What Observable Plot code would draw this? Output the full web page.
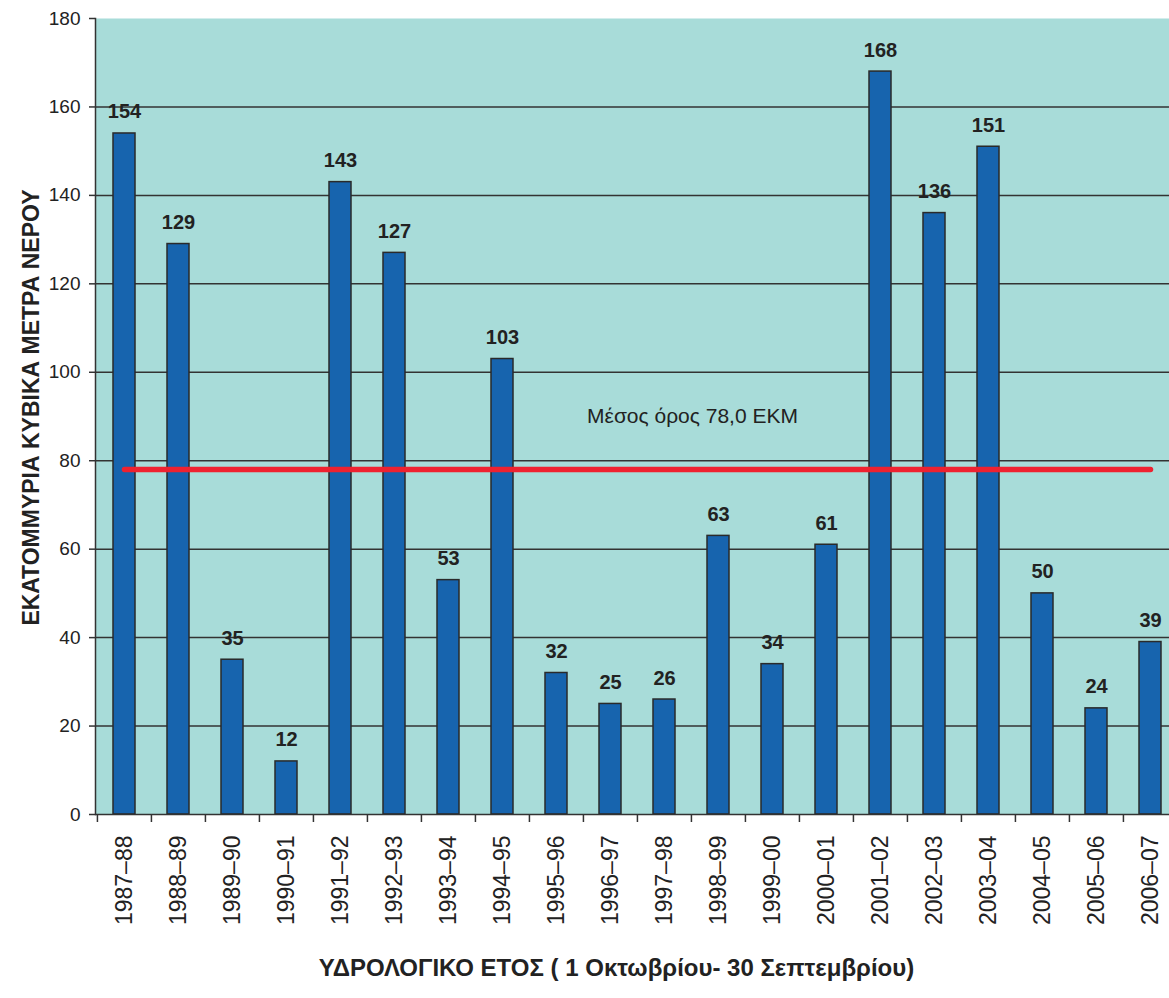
<!DOCTYPE html>
<html>
<head>
<meta charset="utf-8">
<script src="https://cdn.jsdelivr.net/npm/d3@7"></script>
<script src="https://cdn.jsdelivr.net/npm/@observablehq/plot@0.6"></script>
<style>
  html, body { margin: 0; padding: 0; background: #fff; overflow: hidden; }
  #chart svg { display: block; overflow: hidden; }
</style>
</head>
<body>
<div id="chart"></div>
<script>
const years = ["1987–88","1988–89","1989–90","1990–91","1991–92","1992–93","1993–94","1994–95","1995–96","1996–97","1997–98","1998–99","1999–00","2000–01","2001–02","2002–03","2003–04","2004–05","2005–06","2006–07"];
const values = [154,129,35,12,143,127,53,103,32,25,26,63,34,61,168,136,151,50,24,39];
const yTicks = [0,20,40,60,80,100,120,140,160,180];
const meanValue = 78.0;
const meanLabel = "Μέσος όρος 78,0 ΕΚΜ";
const yTitle = "ΕΚΑΤΟΜΜΥΡΙΑ ΚΥΒΙΚΑ ΜΕΤΡΑ ΝΕΡΟΥ";
const xTitle = "ΥΔΡΟΛΟΓΙΚΟ ΕΤΟΣ ( 1 Οκτωβρίου- 30 Σεπτεμβρίου)";

const data = years.map((year, i) => ({year, value: values[i]}));

const W = 1169, H = 998;
const mL = 95, mT = 18, mB = 184;
const xRange = [mL, 1178];
const step = (xRange[1] - xRange[0]) / years.length;
const font = "'Liberation Sans', Arial, Helvetica, sans-serif";

const chart = Plot.plot({
  width: W,
  height: H,
  marginLeft: mL,
  marginRight: 0,
  marginTop: mT,
  marginBottom: mB,
  style: {fontFamily: font, background: "#fff", overflow: "hidden"},
  x: {domain: years, range: xRange, padding: 0},
  y: {domain: [0, 180], ticks: yTicks},
  marks: [
    Plot.frame({fill: "#a8dcd9", stroke: null}),
    Plot.ruleY(yTicks.filter(d => d > 0 && d < 180), {stroke: "#333", strokeWidth: 1.5}),
    Plot.barY(data, {x: "year", y: "value", fill: "#1764ae", stroke: "#2a2a2a", strokeWidth: 1.5, insetLeft: 16, insetRight: 16}),
    Plot.lineY([data[0], data[data.length - 1]], {x: "year", y: () => meanValue, stroke: "#ee2230", strokeWidth: 5.5}),
    Plot.text([meanLabel], {x: () => "1997–98", y: () => 90, dx: 28, fontSize: 21, fill: "#222", textAnchor: "middle"}),
    Plot.text(data, {x: "year", y: "value", text: d => String(d.value), dy: -15, lineAnchor: "bottom", fontSize: 20, fontWeight: "bold", fill: "#222"}),
    Plot.ruleY([0], {stroke: "#333", strokeWidth: 1.5}),
    Plot.frame({anchor: "left", stroke: "#333", strokeWidth: 1.5}),
    Plot.axisY({ticks: yTicks, tickSize: 6, tickPadding: 9, fontSize: 19, fill: "#222", stroke: "#333", strokeWidth: 1.5, label: null}),
    Plot.axisX({tickSize: 8, text: null, dx: -step / 2, stroke: "#333", strokeWidth: 1.5, label: null}),
    Plot.axisX({tickSize: 0, tickPadding: 21, tickRotate: -90, fontSize: 23, fill: "#222", label: null}),
    Plot.text([yTitle], {frameAnchor: "left", textAnchor: "middle", rotate: -90, dx: -64, dy: -9, fontSize: 23, fontWeight: "bold", fill: "#222"}),
    Plot.text([xTitle], {frameAnchor: "bottom", textAnchor: "middle", dy: 161, dx: -16, fontSize: 24, fontWeight: "bold", fill: "#222"})
  ]
});
document.getElementById("chart").appendChild(chart);
</script>
</body>
</html>
